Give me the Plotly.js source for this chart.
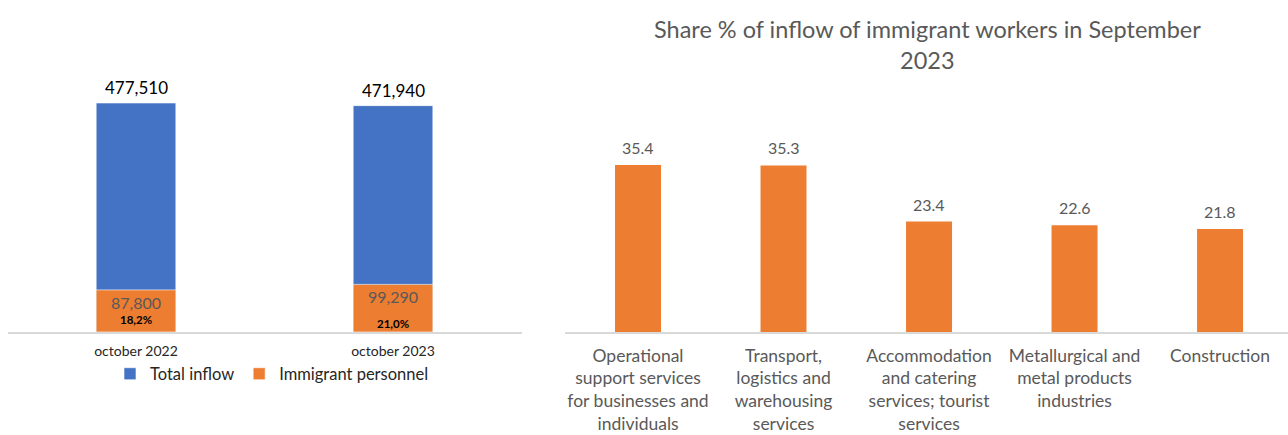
<!DOCTYPE html>
<html>
<head>
<meta charset="utf-8">
<script src="https://cdn.plot.ly/plotly-3.0.1.min.js"></script>
<style>html,body{margin:0;padding:0;background:#fff;}#chart{width:1288px;height:435px;}</style>
</head>
<body>
<div id="chart"></div>
<script>
// Left chart data
const periods = ["october 2022", "october 2023"];
const totalInflow = [477510, 471940];
const immigrantPersonnel = [87800, 99290];
const immigrantShareLabels = ["18,2%", "21,0%"];

// Right chart data
const chartTitle = "Share % of inflow of immigrant workers in September<br>2023";
const sectors = [
  "Operational<br>support services<br>for businesses and<br>individuals",
  "Transport,<br>logistics and<br>warehousing<br>services",
  "Accommodation<br>and catering<br>services; tourist<br>services",
  "Metallurgical and<br>metal products<br>industries",
  "Construction"
];
const sectorShare = [35.4, 35.3, 23.4, 22.6, 21.8];

const FONT = "Lato, 'Open Sans', sans-serif";
const BLUE = "#4472C4";
const ORANGE = "#ED7D31";
const GRAY = "#595959";
const fmt = v => v.toLocaleString("en-US");

const traces = [
  {
    type: "bar", name: "Total inflow", x: periods, y: totalInflow,
    xaxis: "x", yaxis: "y", width: 0.31,
    marker: {color: BLUE, line: {color: "#ffffff", width: 0.6}},
    hoverinfo: "skip"
  },
  {
    type: "bar", name: "Immigrant personnel", x: periods, y: immigrantPersonnel,
    xaxis: "x", yaxis: "y", width: 0.31,
    marker: {color: ORANGE, line: {color: "#ffffff", width: 0.6}},
    hoverinfo: "skip"
  },
  {
    type: "bar", name: "Share", x: sectors, y: sectorShare,
    xaxis: "x2", yaxis: "y2", width: 0.316, showlegend: false,
    marker: {color: ORANGE},
    hoverinfo: "skip"
  }
];

const annotations = [];
periods.forEach((p, i) => {
  annotations.push({xref: "x", yref: "y", x: p, y: totalInflow[i], text: fmt(totalInflow[i]),
    showarrow: false, yanchor: "bottom", yshift: 3, font: {family: FONT, size: 17, color: "#000000"}});
  annotations.push({xref: "x", yref: "y", x: p, y: immigrantPersonnel[i], text: fmt(immigrantPersonnel[i]),
    showarrow: false, yanchor: "top", yshift: -1, font: {family: FONT, size: 16, color: GRAY}});
  annotations.push({xref: "x", yref: "y", x: p, y: 0, text: "<b>" + immigrantShareLabels[i] + "</b>",
    showarrow: false, yanchor: "bottom", yshift: 2 + (i === 0 ? 2 : -2), font: {family: FONT, size: 11.5, color: "#000000"}});
});
sectors.forEach((s, i) => {
  annotations.push({xref: "x2", yref: "y2", x: s, y: sectorShare[i], text: sectorShare[i].toFixed(1),
    showarrow: false, yanchor: "bottom", yshift: 6, font: {family: FONT, size: 16, color: GRAY}});
});
annotations.push({xref: "paper", yref: "paper", x: 927/1288, y: 1 - 13/435, xanchor: "center", yanchor: "top",
  text: chartTitle, showarrow: false, font: {family: FONT, size: 23.5, color: GRAY}});

const layout = {
  width: 1288, height: 435,
  margin: {l: 0, r: 0, t: 0, b: 0},
  paper_bgcolor: "#ffffff", plot_bgcolor: "rgba(0,0,0,0)",
  barmode: "overlay",
  font: {family: FONT, color: GRAY},
  showlegend: true,
  legend: {orientation: "h", x: 272/1288, xanchor: "center", y: 1 - 374/435, yanchor: "middle",
    bgcolor: "rgba(0,0,0,0)",
    font: {family: FONT, size: 16.5, color: "#262626"}, itemwidth: 30, tracegroupgap: 0},
  xaxis: {domain: [7.5/1288, 521.5/1288], range: [-0.5, 1.5], type: "category",
    showline: true, linecolor: "#D9D9D9", linewidth: 1.5, showgrid: false, ticks: "",
    ticklabelstandoff: 6,
    tickfont: {family: FONT, size: 14, color: "#262626"}, fixedrange: true},
  yaxis: {domain: [1 - 332/435, 1 - 63.4/435], range: [0, 560000], visible: false, showgrid: false, fixedrange: true},
  xaxis2: {domain: [565.25/1288, 1], range: [-0.5, 4.467], type: "category", anchor: "y2",
    showline: true, linecolor: "#D9D9D9", linewidth: 1.5, showgrid: false, ticks: "",
    ticklabelstandoff: 7,
    tickfont: {family: FONT, size: 17.5, color: GRAY}, fixedrange: true},
  yaxis2: {domain: [1 - 332/435, 1 - 96/435], range: [0, 50], visible: false, showgrid: false, anchor: "x2", fixedrange: true},
  annotations: annotations
};

Plotly.newPlot("chart", traces, layout, {displayModeBar: false, staticPlot: true});
</script>
</body>
</html>
